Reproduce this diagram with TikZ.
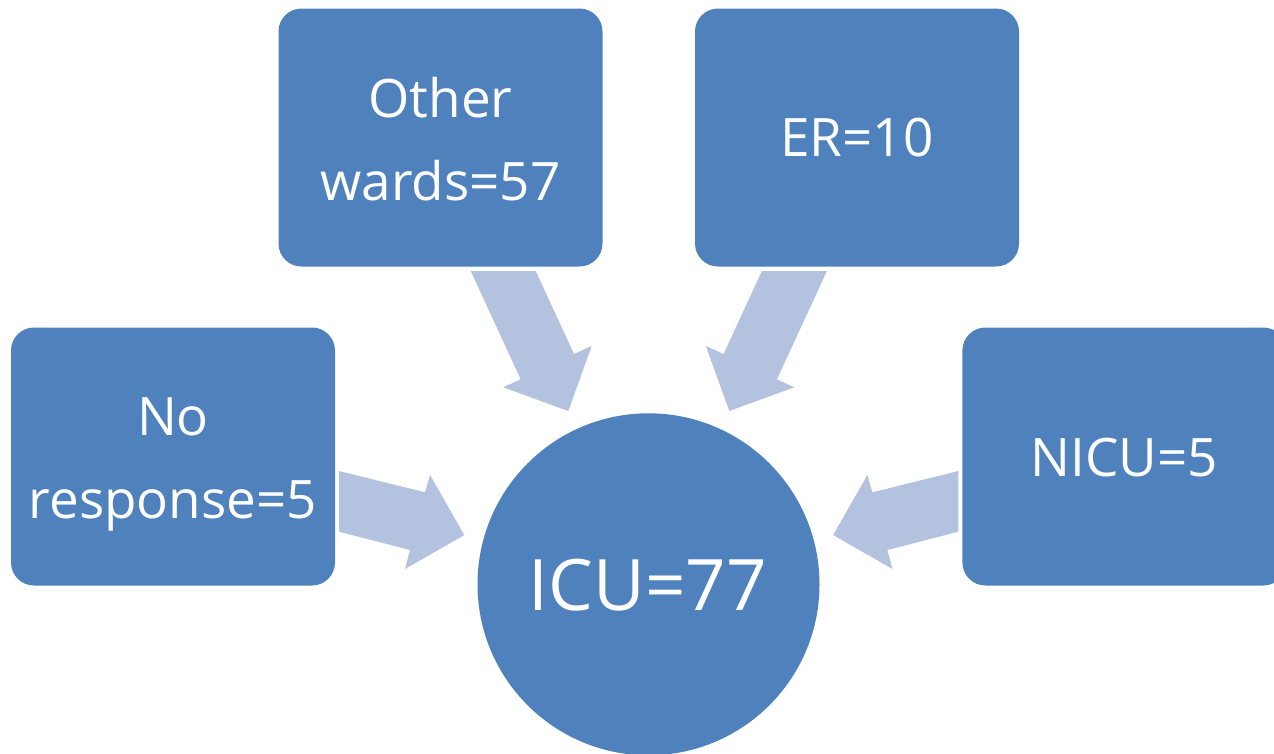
\documentclass[tikz,border=0pt]{standalone}
\usepackage{fontspec}
\setmainfont{Open Sans}
\definecolor{boxblue}{HTML}{4F81BD}
\definecolor{arrowblue}{HTML}{B3C2DE}
\begin{document}
\begin{tikzpicture}[x=1pt,y=-1pt,
  blk/.style={fill=boxblue, draw=none, rounded corners=23pt, minimum width=324pt, minimum height=258pt, inner sep=0pt},
  lbl/.style={text=white, font=\fontsize{53}{83}\selectfont, inner sep=0pt, anchor=base},
  biglbl/.style={text=white, font=\fontsize{71}{85}\selectfont, inner sep=0pt, anchor=base},
  flow/.style={fill=arrowblue, draw=none}]
\useasboundingbox (0,0) rectangle (1274,753);
\clip (0,0) rectangle (1274,753);

% block arrows
\fill[flow] (470.7,271) -- (535.7,271) -- (574,354) -- (591.7,346) -- (568.3,411) -- (503.3,387.3) -- (520.7,379.3) -- cycle;
\fill[flow] (826.9,271) -- (761.9,271) -- (723.6,354) -- (705.9,346) -- (729.3,411) -- (794.3,387.3) -- (776.9,379.3) -- cycle;
\fill[flow] (339,471) -- (425,492.3) -- (430,475) -- (464.3,535) -- (405,569) -- (410,550) -- (339,531.7) -- cycle;
\fill[flow] (958.4,471) -- (872.4,492.3) -- (867.4,475) -- (833.1,535) -- (892.4,569) -- (887.4,550) -- (958.4,531.7) -- cycle;

% boxes
\node[blk] (ow) at (440.5,137.5) {};
\node[blk] (er) at (857,137.5) {};
\node[blk] (nr) at (173,456.5) {};
\node[blk] (nicu) at (1124.4,456.5) {};
\node[circle, fill=boxblue, draw=none, minimum size=342pt, inner sep=0pt] (icu) at (648.5,584.3) {};

% labels
\node[lbl] (owt) at (440.5,200) {\begin{tabular}[b]{@{}c@{}}Other\\wards=57\end{tabular}};
\node[lbl] (ert) at (857,156.5) {ER=10};
\node[lbl] (nrt) at (173,518) {\begin{tabular}[b]{@{}c@{}}No\\response=5\end{tabular}};
\node[lbl] (nicut) at (1124.4,476.5) {NICU=5};
\node[biglbl] (icut) at (648,610.7) {ICU=77};
\end{tikzpicture}
\end{document}
